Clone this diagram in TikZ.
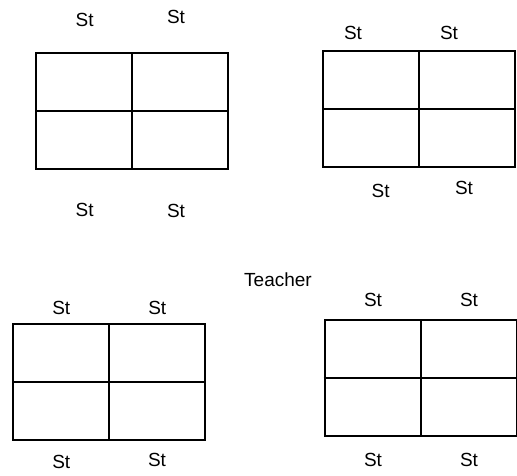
\documentclass[tikz,border=0pt]{standalone}
\usepackage{fontspec}
\setmainfont{Liberation Sans}
\begin{document}
\begin{tikzpicture}[x=1pt,y=-1pt,
  tablebox/.style={draw,line width=2pt,minimum width=192pt,minimum height=116pt,inner sep=0pt},
  divider/.style={line width=2pt},
  lbl/.style={font=\fontsize{19}{22}\selectfont,inner sep=0pt}]
\useasboundingbox (0,0) rectangle (517,475);
% tables
\node[tablebox] (t1) at (132,111) {};
\node[tablebox] (t2) at (419,109) {};
\node[tablebox] (t3) at (109,382) {};
\node[tablebox] (t4) at (420.5,378) {};
\foreach \t in {t1,t2,t3,t4}{
  \draw[divider] (\t.north) -- (\t.south);
  \draw[divider] (\t.west) -- (\t.east);
}
% labels
\node[lbl] (s1a) at (84.7,20) {St};
\node[lbl] (s1b) at (176,17.3) {St};
\node[lbl] (s1c) at (84.7,210) {St};
\node[lbl] (s1d) at (176,210.7) {St};
\node[lbl] (s2a) at (353,33.3) {St};
\node[lbl] (s2b) at (449,33.3) {St};
\node[lbl] (s2c) at (380.7,190.7) {St};
\node[lbl] (s2d) at (464,188.3) {St};
\node[lbl] (s3a) at (61.3,308.3) {St};
\node[lbl] (s3b) at (157.3,308.3) {St};
\node[lbl] (s3c) at (61.3,461.7) {St};
\node[lbl] (s3d) at (157,460) {St};
\node[lbl] (s4a) at (373,300) {St};
\node[lbl] (s4b) at (469,300) {St};
\node[lbl] (s4c) at (373,460) {St};
\node[lbl] (s4d) at (469,460) {St};
\node[lbl] (teacher) at (278,280) {Teacher};
\end{tikzpicture}
\end{document}
